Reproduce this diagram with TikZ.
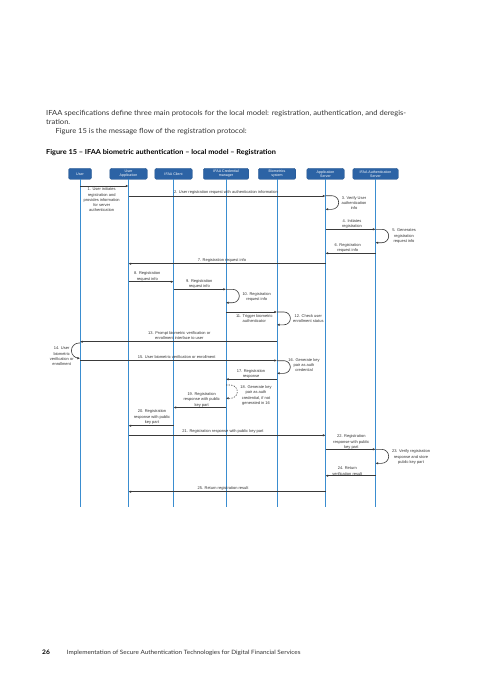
\documentclass[tikz,border=0pt]{standalone}
\usepackage{fontspec}
\setmainfont{Liberation Sans}
\newfontfamily\bodyfont[FakeStretch=1.08]{Lato}
\usetikzlibrary{arrows.meta}
\definecolor{boxblue}{HTML}{2C63A5}
\definecolor{lifeblue}{HTML}{3A8DD0}
\definecolor{msggray}{HTML}{3A3A3A}
\definecolor{txtgray}{HTML}{333333}
\begin{document}
\begin{tikzpicture}[x=1pt,y=-1pt,
  actor/.style={draw=boxblue!85!black, line width=0.3pt, fill=boxblue, rounded corners=1.5pt,
    text=white, font=\fontsize{3.6}{4.1}\selectfont, align=center, minimum height=11pt,
    inner sep=0.5pt},
  life/.style={draw=lifeblue, line width=1pt},
  msg/.style={draw=msggray, line width=0.6pt, -{Latex[length=2.6pt,width=2.4pt]}},
  lbl/.style={font=\fontsize{4}{5.3}\selectfont, text=black!80, align=center, inner sep=0pt},
  para/.style={font=\bodyfont\fontsize{7}{8}\selectfont, text=txtgray, anchor=base west, inner sep=0pt},
]
\useasboundingbox[fill=white] (0,0) rectangle (480,679);

% text
\node[para] (p1) at (46,116) {\makebox[360pt][s]{IFAA specifications define three main protocols for the local model: registration, authentication, and deregis-}};
\node[para] (p2) at (46,125) {tration.};
\node[para] (p3) at (55.3,134) {Figure 15 is the message flow of the registration protocol:};
\node[para, font=\bodyfont\bfseries\fontsize{6.8}{8}\selectfont, text=black] (title) at (46,155) {Figure 15 – IFAA biometric authentication – local model – Registration};
\node[para, font=\bodyfont\bfseries\fontsize{6.2}{8}\selectfont, text=black] (pg) at (42,654) {26};
\node[para, font=\bodyfont\fontsize{5.9}{8}\selectfont] (foot) at (66.7,654) {Implementation of Secure Authentication Technologies for Digital Financial Services};

% actors
\node[actor, minimum width=23pt] (u) at (80,173.8) {User};
\node[actor, minimum width=37.5pt] (ua) at (128.5,173.8) {User\\Application};
\node[actor, minimum width=37.5pt] (ic) at (173.5,173.8) {IFAA Client};
\node[actor, minimum width=45.5pt] (cm) at (226,173.8) {IFAA Credential\\manager};
\node[actor, minimum width=37.5pt] (bs) at (277,173.8) {Biometrics\\system};
\node[actor, minimum width=37.5pt] (as) at (325.5,173.8) {Application\\Server};
\node[actor, minimum width=45.5pt] (aas) at (375.5,173.8) {IFAA Authentication\\Server};

\foreach \n in {u,ua,ic,cm,bs,as,aas}
  \draw[life] (\n.south) -- (\n.south |- 0,506.7);

% messages
\draw[msg] (u |- 0,186) -- (ua |- 0,186);
\node[lbl] (l1) at (101.7,199.9) {1. User initiates\\registration and\\provides information\\for server\\authentication};
\draw[msg] (ua |- 0,196) -- (as |- 0,196);
\node[lbl] (l2) at (226,192.3) {2. User registration request with authentication information};
\draw[msg] (as |- 0,195.7) -- ++(6.4,0) arc[start angle=-90,end angle=90,radius=6.8] -- (as |- 0,209.3);
\node[lbl] (l3) at (354,203) {3. Verify User\\authentication\\info};
\draw[msg] (as |- 0,229.3) -- (aas |- 0,229.3);
\node[lbl] (l4) at (352,224.2) {4. Initiates\\registration};
\draw[msg] (aas |- 0,229.3) -- ++(6.5,0) arc[start angle=-90,end angle=90,radius=6.7] -- (aas |- 0,242.7);
\node[lbl] (l5) at (404,236.3) {5. Generates\\registration\\request info};
\draw[msg] (aas |- 0,253.3) -- (as |- 0,253.3);
\node[lbl] (l6) at (347.7,248.2) {6. Registration\\request info};
\draw[msg] (as |- 0,263.7) -- (ua |- 0,263.7);
\node[lbl] (l7) at (222,260.3) {7. Registration request info};
\draw[msg] (ua |- 0,281.7) -- (ic |- 0,281.7);
\node[lbl] (l8) at (147.3,276.5) {8. Registration\\request info};
\draw[msg] (ic |- 0,289.3) -- (cm |- 0,289.3);
\node[lbl] (l9) at (199.3,284) {9. Registration\\request info};
\draw[msg] (cm |- 0,289.3) -- ++(6.6,0) arc[start angle=-90,end angle=90,radius=6.7] -- (cm |- 0,302.7);
\node[lbl] (l10) at (256.7,297.2) {10. Registration\\request info};
\draw[msg] (cm |- 0,312) -- (bs |- 0,312);
\node[lbl] (l11) at (254.3,318.4) {11. Trigger biometric\\authenticator};
\draw[msg] (bs |- 0,312) -- ++(7,0) arc[start angle=-90,end angle=90,radius=6.4] -- (bs |- 0,324.8);
\node[lbl] (l12) at (308.3,318.4) {12. Check user\\enrollment status};
\draw[msg] (bs |- 0,341.7) -- (u |- 0,341.7);
\node[lbl] (l13) at (179.3,335.4) {13. Prompt biometric verification or\\enrollment interface to user};
\draw[msg] (u |- 0,343) -- ++(-1,0) arc[start angle=-90,end angle=-270,radius=7.6] -- (u |- 0,358.2);
\node[lbl] (l14) at (61.7,356.3) {14. User\\biometric\\verification or\\enrollment};
\draw[msg] (u |- 0,360.5) -- (bs |- 0,360.5);
\node[lbl] (l15) at (176.7,356.7) {15. User biometric verification or enrollment};
\draw[msg] (bs |- 0,360.7) -- ++(7,0) arc[start angle=-90,end angle=90,radius=6.3] -- (bs |- 0,373.3);
\node[lbl] (l16) at (304,365.2) {16. Generate key\\pair as auth\\credential};
\draw[msg] (bs |- 0,379.3) -- (cm |- 0,379.3);
\node[lbl] (l17) at (251,374.2) {17. Registration\\response};
\draw[msg, dashed, dash pattern=on 1.3pt off 1.3pt] (cm |- 0,385) -- ++(4.7,0) arc[start angle=-90,end angle=90,radius=6.65] -- (cm |- 0,398.3);
\node[lbl] (l18) at (256,395.5) {18. Generate key\\pair as auth\\credential, if not\\generated in 16};
\draw[msg] (cm |- 0,407.5) -- (ic |- 0,407.5);
\node[lbl] (l19) at (201.7,399.8) {19. Registration\\response with public\\key part};
\draw[msg] (ic |- 0,425.7) -- (ua |- 0,425.7);
\node[lbl] (l20) at (152,417.2) {20. Registration\\response with public\\key part};
\draw[msg] (ua |- 0,435.3) -- (as |- 0,435.3);
\node[lbl] (l21) at (223,431.7) {21. Registration response with public key part};
\draw[msg] (as |- 0,449.3) -- (aas |- 0,449.3);
\node[lbl] (l22) at (351.3,442.2) {22. Registration\\response with public\\key part};
\draw[msg] (aas |- 0,449.3) -- ++(6.2,0) arc[start angle=-90,end angle=90,radius=7] -- (aas |- 0,463.3);
\node[lbl] (l23) at (411,457.2) {23. Verify registration\\response and store\\public key part};
\draw[msg] (aas |- 0,475.7) -- (as |- 0,475.7);
\node[lbl] (l24) at (347.3,471.2) {24. Return\\verification result};
\draw[msg] (as |- 0,491.7) -- (ua |- 0,491.7);
\node[lbl] (l25) at (223,488.3) {25. Return registration result};
\end{tikzpicture}
\end{document}
